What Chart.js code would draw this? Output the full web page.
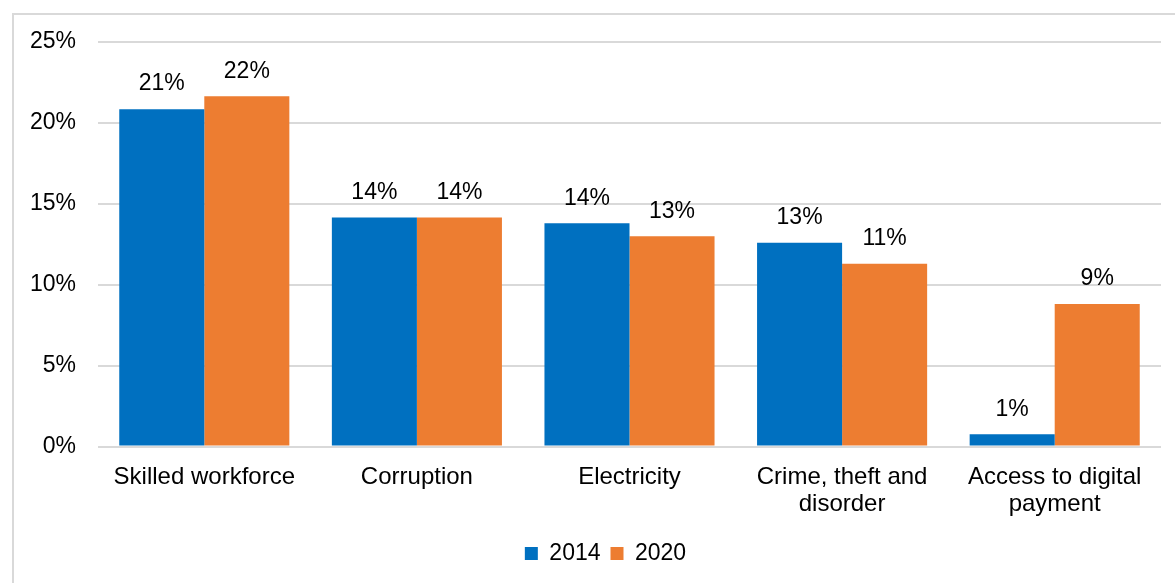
<!DOCTYPE html>
<html>
<head>
<meta charset="utf-8">
<script src="https://cdn.jsdelivr.net/npm/chart.js@4/dist/chart.umd.min.js"></script>
<style>
  html, body { margin: 0; padding: 0; background: #fff; overflow: hidden; }
  #frame {
    position: absolute; left: 12px; top: 13px;
    width: 1200px; height: 620px;
    border: 2px solid #d9d9d9; box-sizing: border-box;
  }
  #wrap { position: absolute; left: 0; top: 0; width: 1175px; height: 583px; }
</style>
</head>
<body>
<div id="frame"></div>
<div id="wrap"><canvas id="obstacleChart"></canvas></div>
<script>
// Categories and shares (%) per survey year
const categories = [
  'Skilled workforce',
  'Corruption',
  'Electricity',
  ['Crime, theft and', 'disorder'],
  ['Access to digital', 'payment']
];
const values2014 = [20.85, 14.15, 13.8, 12.6, 0.76];
const values2020 = [21.65, 14.15, 13.0, 11.3, 8.8];
const yTicks = [0, 5, 10, 15, 20, 25];

const FONT = 'Arial, "Liberation Sans", sans-serif';
const FONT_SIZE = 23;

// Value labels above each bar
const barLabels = {
  id: 'barLabels',
  afterDatasetsDraw(chart) {
    const ctx = chart.ctx;
    ctx.save();
    ctx.font = FONT_SIZE + 'px ' + FONT;
    ctx.fillStyle = '#000';
    ctx.textAlign = 'center';
    ctx.textBaseline = 'middle';
    chart.data.datasets.forEach((ds, i) => {
      chart.getDatasetMeta(i).data.forEach((bar, j) => {
        ctx.fillText(Math.round(ds.data[j]) + '%', bar.x, bar.y - 25);
      });
    });
    ctx.restore();
  }
};

// Centre the legend on the outer frame rather than the plot
const legendShift = {
  id: 'legendShift',
  afterLayout(chart) {
    chart.legend.left += 25;
    chart.legend.right += 25;
  }
};

new Chart(document.getElementById('obstacleChart'), {
  type: 'bar',
  data: {
    labels: categories,
    datasets: [
      { label: '2014', data: values2014, backgroundColor: '#0070C0' },
      { label: '2020', data: values2020, backgroundColor: '#ED7D31' }
    ]
  },
  options: {
    responsive: true,
    maintainAspectRatio: false,
    animation: false,
    datasets: { bar: { categoryPercentage: 0.8, barPercentage: 1.0 } },
    layout: { padding: { left: 0, right: 14, top: 42, bottom: 8 } },
    plugins: {
      legend: {
        position: 'bottom',
        labels: {
          font: { family: FONT, size: FONT_SIZE },
          color: '#000',
          boxWidth: 13,
          boxHeight: 13,
          padding: 10
        }
      },
      tooltip: { enabled: false }
    },
    scales: {
      x: {
        grid: { display: false },
        border: { display: false },
        ticks: {
          color: '#000',
          font: { family: FONT, size: 24, lineHeight: 1.125 },
          padding: 9,
          maxRotation: 0,
          autoSkip: false
        },
        afterFit(scale) { scale.height = 85.5; }
      },
      y: {
        min: 0,
        max: 25,
        afterBuildTicks(scale) { scale.ticks = yTicks.map(v => ({ value: v })); },
        grid: { color: '#d9d9d9', lineWidth: 2, drawTicks: false },
        border: { display: false },
        ticks: {
          color: '#000',
          font: { family: FONT, size: FONT_SIZE },
          padding: 22,
          callback: v => v + '%'
        },
        afterFit(scale) { scale.width = 98; }
      }
    }
  },
  plugins: [barLabels, legendShift]
});
</script>
</body>
</html>
